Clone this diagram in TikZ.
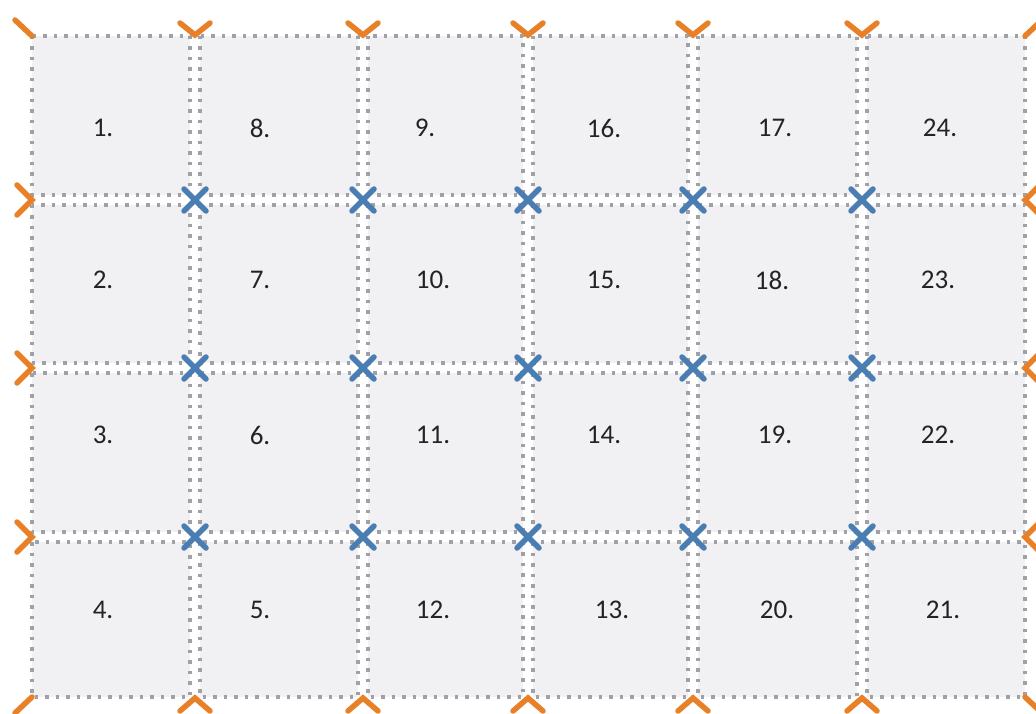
\documentclass[tikz,border=0pt]{standalone}
\usepackage{fontspec}
\setmainfont{Carlito}
\definecolor{tilefill}{RGB}{241,241,243}
\definecolor{dotgray}{RGB}{160,161,166}
\definecolor{chevorange}{RGB}{232,128,40}
\definecolor{xblue}{RGB}{74,126,178}
\definecolor{txt}{RGB}{35,35,35}
\begin{document}
\begin{tikzpicture}[x=1pt,y=-1pt,
  tile/.style={fill=tilefill,draw=dotgray,line width=3.5pt,dash pattern=on 3.5pt off 7pt},
  chev/.style={draw=chevorange,line width=5.5pt,line cap=round,line join=miter},
  xmark/.style={draw=xblue,line width=5.5pt,line cap=round},
  lab/.style={font=\fontsize{27}{27}\selectfont,text=txt,inner sep=0pt}]
\clip (0,0) rectangle (1036,714);
\fill[white] (0,0) rectangle (1036,714);
% grid coordinates
\def\cx{{32,195,363,528,693,862,1025}}
\def\ry{{36,200,368,537,697}}
% tiles
\foreach \i in {0,...,5}{
  \foreach \j in {0,...,3}{
    \pgfmathsetmacro{\xa}{\cx[\i]+(\i>0?5:0)}
    \pgfmathsetmacro{\xb}{\cx[\i+1]-(\i<5?5:0)}
    \pgfmathsetmacro{\ya}{\ry[\j]+(\j>0?5:0)}
    \pgfmathsetmacro{\yb}{\ry[\j+1]-(\j<3?5:0)}
    \draw[tile] (\xa,\ya) rectangle (\xb,\yb);
  }
}
% labels
\foreach \n/\x/\y in {
  1/103/128, 8/260/128, 9/425/128, 16/604/128, 17/775/128, 24/940/128,
  2/103/280, 7/260/280, 10/433/280, 15/604/280, 18/772/280, 23/938/280,
  3/103/435, 6/260/435, 11/433/435, 14/604/435, 19/775/435, 22/938/435,
  4/103/610, 5/260/610, 12/433/610, 13/612/610, 20/777/610, 21/943/610}{
  \node[lab] (l\n) at (\x,\y) {\n.};
}
% interior crossings
\foreach \i in {1,...,5}{
  \foreach \j in {1,...,3}{
    \pgfmathsetmacro{\xx}{\cx[\i]}
    \pgfmathsetmacro{\yy}{\ry[\j]}
    \coordinate (x\i\j) at (\xx,\yy);
    \draw[xmark] ([shift={(-11,-11)}]x\i\j) -- ([shift={(11,11)}]x\i\j)
                 ([shift={(-11,11)}]x\i\j) -- ([shift={(11,-11)}]x\i\j);
  }
}
% top and bottom chevrons
\foreach \i in {1,...,5}{
  \pgfmathsetmacro{\xx}{\cx[\i]}
  \coordinate (ct\i) at (\xx,35);
  \coordinate (cb\i) at (\xx,698);
  \draw[chev] ([shift={(-15,-12)}]ct\i) -- (ct\i) -- ([shift={(15,-12)}]ct\i);
  \draw[chev] ([shift={(-15,13)}]cb\i) -- (cb\i) -- ([shift={(15,13)}]cb\i);
}
% left and right chevrons
\foreach \j in {1,...,3}{
  \pgfmathsetmacro{\yy}{\ry[\j]}
  \coordinate (cl\j) at (32,\yy);
  \coordinate (cr\j) at (1025,\yy);
  \draw[chev] ([shift={(-15,-15)}]cl\j) -- (cl\j) -- ([shift={(-15,15)}]cl\j);
  \draw[chev] ([shift={(15,-15)}]cr\j) -- (cr\j) -- ([shift={(15,15)}]cr\j);
}
% corner strokes
\coordinate (k1) at (32,36);
\coordinate (k2) at (1025,36);
\coordinate (k3) at (32,697);
\coordinate (k4) at (1025,697);
\draw[chev] ([shift={(-17,-16)}]k1) -- (k1);
\draw[chev] ([shift={(17,-16)}]k2) -- (k2);
\draw[chev] ([shift={(-17,16)}]k3) -- (k3);
\draw[chev] ([shift={(17,16)}]k4) -- (k4);
\end{tikzpicture}
\end{document}
